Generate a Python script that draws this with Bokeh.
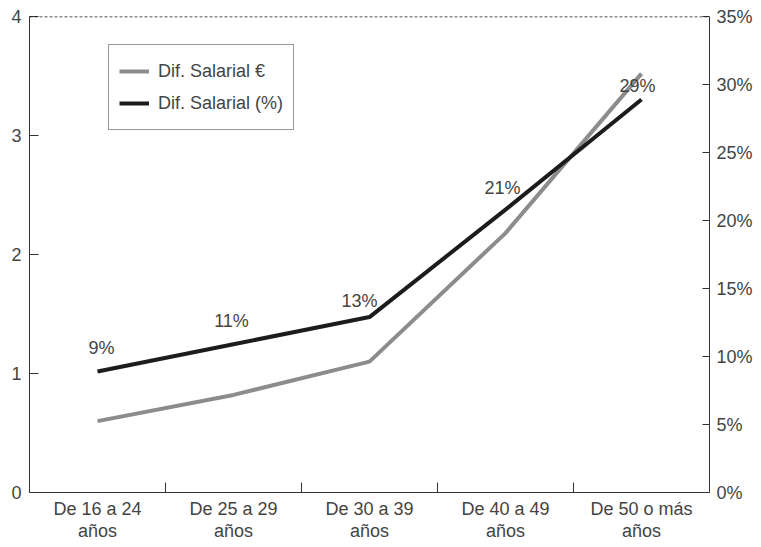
from bokeh.plotting import figure
from bokeh.models import Range1d, LinearAxis, FixedTicker, Span, ColumnDataSource
from bokeh.core.properties import value
from bokeh.embed import file_html
from bokeh.resources import INLINE

categories = ["De 16 a 24\naños", "De 25 a 29\naños", "De 30 a 39\naños",
              "De 40 a 49\naños", "De 50 o más\naños"]
dif_eur = [0.60, 0.82, 1.10, 2.18, 3.52]
dif_pct = [8.9, 10.9, 12.9, 20.8, 28.9]
left_ticks = [0, 1, 2, 3, 4]
right_ticks = [0, 5, 10, 15, 20, 25, 30, 35]

# label nudges in screen pixels (style)
label_dx = [4, -2, -10, -3, -4]
label_dy = [-23, -23, -16, -22, -13]

FONT = "Liberation Sans"
TXT = "#444444"
AX = "#333333"
FS = "18px"

xs = [i + 0.5 for i in range(len(categories))]

p = figure(width=761, height=547, output_backend="svg", toolbar_location=None,
           x_range=Range1d(0, len(categories)), y_range=Range1d(0, 4),
           min_border_left=29, min_border_right=52, min_border_top=16, min_border_bottom=55)
p.extra_y_ranges = {"pct": Range1d(0, 35)}
p.outline_line_color = None
p.grid.grid_line_color = None
p.background_fill_color = "white"
p.border_fill_color = "white"

# x axis
xa = p.xaxis[0]
xa.ticker = FixedTicker(ticks=xs, minor_ticks=[1, 2, 3, 4])
xa.major_label_overrides = {x: c for x, c in zip(xs, categories)}
xa.major_tick_in = 0
xa.major_tick_out = 0
xa.minor_tick_in = 10
xa.minor_tick_out = 0
xa.minor_tick_line_color = AX
xa.axis_line_color = AX
xa.major_label_standoff = 6
xa.major_label_text_font = FONT
xa.major_label_text_font_size = FS
xa.major_label_text_color = TXT
xa.major_label_text_line_height = 1.1

# left axis
ya = p.yaxis[0]
ya.ticker = FixedTicker(ticks=left_ticks)
ya.major_tick_in = 9
ya.major_tick_out = 0
ya.minor_tick_line_color = None
ya.axis_line_color = AX
ya.major_tick_line_color = AX
ya.major_label_standoff = 8
ya.major_label_text_font = FONT
ya.major_label_text_font_size = FS
ya.major_label_text_color = TXT

# right axis
ra = LinearAxis(y_range_name="pct", ticker=FixedTicker(ticks=right_ticks))
ra.major_label_overrides = {t: f"{t}%" for t in right_ticks}
ra.major_tick_in = 7
ra.major_tick_out = 0
ra.minor_tick_line_color = None
ra.axis_line_color = AX
ra.major_tick_line_color = AX
ra.major_label_standoff = 7
ra.major_label_text_font = FONT
ra.major_label_text_font_size = FS
ra.major_label_text_color = TXT
p.add_layout(ra, "right")

# top dashed border
p.add_layout(Span(location=4, dimension="width", line_color="#1a1a1a", line_width=1.3,
                  line_dash="3 2"))

p.line(xs, dif_eur, line_color="#8c8c8c", line_width=4, legend_label="Dif. Salarial €")
p.line(xs, dif_pct, line_color="#1c1c1c", line_width=4, y_range_name="pct",
       legend_label="Dif. Salarial (%)")

src = ColumnDataSource(dict(x=xs, y=dif_pct, t=[f"{round(v)}%" for v in dif_pct],
                            dx=label_dx, dy=label_dy))
p.text("x", "y", text="t", source=src, y_range_name="pct", x_offset="dx", y_offset="dy",
       text_align="center", text_baseline="middle", text_font=value(FONT),
       text_font_size=FS, text_color=TXT)

lg = p.legend[0]
lg.location = (79, 362)
lg.border_line_color = AX
lg.border_line_width = 1
lg.padding = 10
lg.spacing = 0
lg.margin = 0
lg.glyph_width = 30
lg.glyph_height = 32
lg.label_height = 32
lg.label_standoff = 9
lg.label_text_font = FONT
lg.label_text_font_size = FS
lg.label_text_color = TXT
lg.background_fill_color = "white"

open("out.html", "w").write(file_html(p, INLINE))
